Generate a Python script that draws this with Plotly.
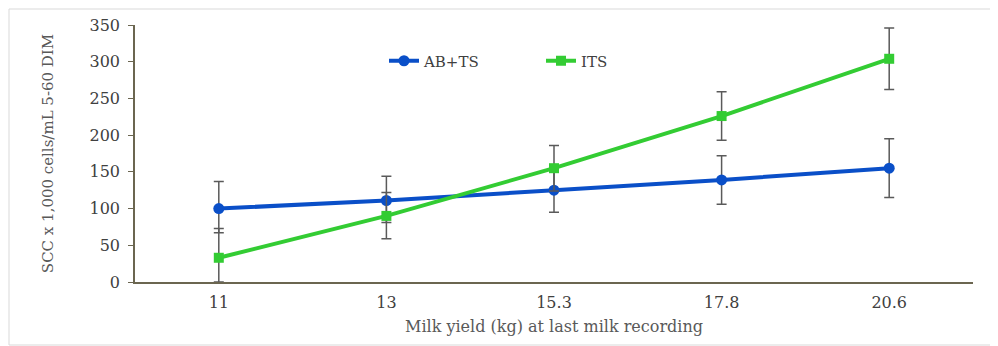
import plotly.graph_objects as go

categories = ["11", "13", "15.3", "17.8", "20.6"]
ab_ts = [100, 111, 125, 139, 155]
ab_ts_plus = [37, 33, 30, 33, 40]
ab_ts_minus = [33, 30, 30, 33, 40]
its = [33, 90, 155, 226, 304]
its_plus = [40, 32, 31, 33, 42]
its_minus = [33, 31, 31, 33, 42]
y_ticks = [0, 50, 100, 150, 200, 250, 300, 350]

FONT = "DejaVu Serif"
BLUE = "#0a4fc8"
GREEN = "#33cc33"
ERR = "#5a5a5a"

# page body has an 8px margin: figure is 990x338 placed at (8,8)
L, T = 127, 17
PW, PH = 838, 257

fig = go.Figure()
fig.add_trace(go.Scatter(
    x=categories, y=ab_ts, name="AB+TS", mode="lines+markers",
    line=dict(color=BLUE, width=4),
    marker=dict(symbol="circle", size=11, color=BLUE),
    error_y=dict(type="data", array=ab_ts_plus, arrayminus=ab_ts_minus,
                 color=ERR, thickness=1.5, width=5),
))
fig.add_trace(go.Scatter(
    x=categories, y=its, name="ITS", mode="lines+markers",
    line=dict(color=GREEN, width=4),
    marker=dict(symbol="square", size=10, color=GREEN),
    error_y=dict(type="data", array=its_plus, arrayminus=its_minus,
                 color=ERR, thickness=1.5, width=5),
))

fig.update_layout(
    width=990, height=338,
    margin=dict(l=L, r=990 - L - PW, t=T, b=338 - T - PH),
    paper_bgcolor="white", plot_bgcolor="white",
    font=dict(family=FONT, color="#404040", size=15),
    showlegend=True,
    legend=dict(orientation="h", x=(384 - 8 - L) / PW, y=(282 - 61) / PH,
                xanchor="left", yanchor="middle",
                font=dict(family=FONT, size=15, color="#404040"),
                entrywidth=112, entrywidthmode="pixels",
                bgcolor="rgba(0,0,0,0)"),
    xaxis=dict(
        type="category", range=[-0.5, 4.5],
        showline=True, linecolor="#6b6650", linewidth=1.5,
        ticks="", showgrid=False, zeroline=False, automargin=False,
        ticklabelstandoff=5,
        tickfont=dict(family=FONT, size=16, color="#404040"),
        title=dict(text="Milk yield (kg) at last milk recording",
                   font=dict(family=FONT, size=16, color="#595959"), standoff=10),
    ),
    yaxis=dict(
        range=[0, 350], tickvals=y_ticks, automargin=False,
        showline=True, linecolor="#6b6650", linewidth=1.5,
        ticks="outside", ticklen=5, tickcolor="#6b6650",
        showgrid=False, zeroline=False, ticklabelstandoff=5,
        tickfont=dict(family=FONT, size=16, color="#404040"),
        title=dict(text="SCC x 1,000 cells/mL 5-60 DIM",
                   font=dict(family=FONT, size=15, color="#595959"), standoff=32),
    ),
    shapes=[dict(type="rect", xref="paper", yref="paper",
                 x0=(9 - 8 - L) / PW, x1=(992 - 8 - L) / PW,
                 y0=-(338 - T - PH - 1) / PH, y1=(PH + T - 1) / PH,
                 line=dict(color="#d9d9d9", width=1), fillcolor="rgba(0,0,0,0)",
                 layer="below")],
)

fig.write_html("out.html")
